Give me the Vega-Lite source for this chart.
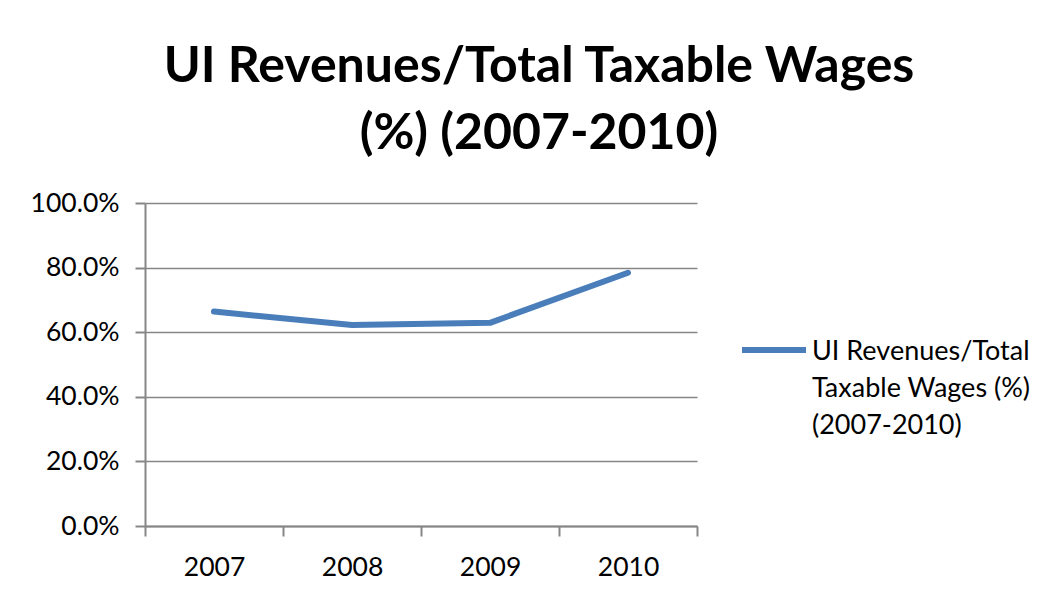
{
  "$schema": "https://vega.github.io/schema/vega-lite/v6.json",
  "autosize": "none",
  "padding": {"left": 145, "top": 203, "right": 363, "bottom": 73},
  "width": 552,
  "height": 323,
  "background": "white",
  "config": {
    "view": {"stroke": null},
    "font": "Lato",
    "style": {"guide-label": {"lineHeight": 37}},
    "axis": {"labelFont": "Lato", "labelFontSize": 26.5, "labelColor": "#000000", "domainColor": "#868686", "domainWidth": 2, "tickColor": "#868686", "tickWidth": 2, "tickSize": 10, "gridColor": "#868686", "gridWidth": 1.5, "title": null}
  },
  "title": {
    "text": ["UI Revenues/Total Taxable Wages", "(%) (2007-2010)"],
    "font": "Lato",
    "fontSize": 50,
    "fontWeight": "bold",
    "color": "#000000",
    "anchor": "middle",
    "lineHeight": 67,
    "dx": 118,
    "offset": 31
  },
  "data": {
    "values": [
      {"year": "2007", "value": 0.664, "series": "UI Revenues/Total Taxable Wages (%) (2007-2010)"},
      {"year": "2008", "value": 0.622, "series": "UI Revenues/Total Taxable Wages (%) (2007-2010)"},
      {"year": "2009", "value": 0.629, "series": "UI Revenues/Total Taxable Wages (%) (2007-2010)"},
      {"year": "2010", "value": 0.784, "series": "UI Revenues/Total Taxable Wages (%) (2007-2010)"}
    ]
  },
  "mark": {"type": "line", "strokeWidth": 6, "strokeCap": "round", "strokeJoin": "round"},
  "encoding": {
    "x": {
      "field": "year", "type": "ordinal",
      "scale": {"type": "band", "paddingInner": 0, "paddingOuter": 0},
      "axis": {"labelAngle": 0, "tickBand": "extent", "labelPadding": 18, "grid": false}
    },
    "y": {
      "field": "value", "type": "quantitative",
      "scale": {"domain": [0, 1]},
      "axis": {"values": [0, 0.2, 0.4, 0.6, 0.8, 1.0], "format": ".1%", "labelPadding": 16, "grid": true}
    },
    "color": {
      "field": "series", "type": "nominal",
      "scale": {"range": ["#4A7EBB"]},
      "legend": {
        "title": null,
        "orient": "none",
        "legendX": 594,
        "legendY": 101,
        "symbolType": "M-1,0.34L1,0.34",
        "symbolSize": 4096,
        "symbolStrokeWidth": 6,
        "labelFont": "Lato",
        "labelFontSize": 27,
        "labelColor": "#000000",
        "labelLimit": 400,
        "labelOffset": 3,
        "labelBaseline": "top",
        "labelExpr": "['UI Revenues/Total', 'Taxable Wages (%)', '(2007-2010)']"
      }
    }
  }
}
